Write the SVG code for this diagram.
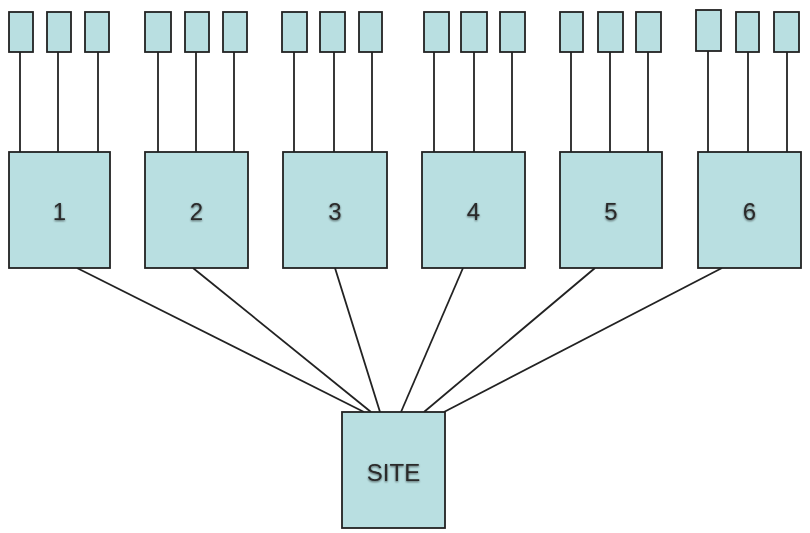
<svg xmlns="http://www.w3.org/2000/svg" width="810" height="533" viewBox="0 0 810 533">
<defs>
<filter id="soft" x="-20%" y="-20%" width="140%" height="140%">
<feGaussianBlur in="SourceAlpha" stdDeviation="1.2" result="b"/>
<feOffset in="b" dx="0" dy="1" result="o"/>
<feComponentTransfer in="o" result="s"><feFuncA type="linear" slope="0.6"/></feComponentTransfer>
<feMerge><feMergeNode in="s"/><feMergeNode in="SourceGraphic"/></feMerge>
</filter>
<style>
.box{fill:#b9dfe1;stroke:#222;stroke-width:1.8}
.ln{stroke:#222;stroke-width:1.8;fill:none}
.lbl{font-family:"Liberation Sans",Arial,sans-serif;font-size:24px;fill:#2a2a2a;text-anchor:middle;filter:url(#soft)}
</style>
</defs>
<rect width="810" height="533" fill="#fff"/>
<g id="connectors" class="ln">
<line x1="20" y1="52" x2="20" y2="152"/><line x1="58" y1="52" x2="58" y2="152"/><line x1="98" y1="52" x2="98" y2="152"/>
<line x1="158" y1="52" x2="158" y2="152"/><line x1="196" y1="52" x2="196" y2="152"/><line x1="234" y1="52" x2="234" y2="152"/>
<line x1="294" y1="52" x2="294" y2="152"/><line x1="334" y1="52" x2="334" y2="152"/><line x1="372" y1="52" x2="372" y2="152"/>
<line x1="434" y1="52" x2="434" y2="152"/><line x1="474" y1="52" x2="474" y2="152"/><line x1="512" y1="52" x2="512" y2="152"/>
<line x1="571" y1="52" x2="571" y2="152"/><line x1="610" y1="52" x2="610" y2="152"/><line x1="648" y1="52" x2="648" y2="152"/>
<line x1="708" y1="51" x2="708" y2="152"/><line x1="748" y1="52" x2="748" y2="152"/><line x1="787" y1="52" x2="787" y2="152"/>
<line x1="77" y1="268" x2="364" y2="412"/>
<line x1="193" y1="268" x2="371" y2="412"/>
<line x1="335" y1="268" x2="380" y2="412"/>
<line x1="463" y1="268" x2="401" y2="412"/>
<line x1="595" y1="268" x2="424" y2="412"/>
<line x1="722" y1="268" x2="444" y2="412"/>
</g>
<g id="leaf-1a"><rect class="box" x="9" y="12" width="24" height="40"/></g>
<g id="leaf-1b"><rect class="box" x="47" y="12" width="24" height="40"/></g>
<g id="leaf-1c"><rect class="box" x="85" y="12" width="24" height="40"/></g>
<g id="leaf-2a"><rect class="box" x="145" y="12" width="26" height="40"/></g>
<g id="leaf-2b"><rect class="box" x="185" y="12" width="24" height="40"/></g>
<g id="leaf-2c"><rect class="box" x="223" y="12" width="24" height="40"/></g>
<g id="leaf-3a"><rect class="box" x="282" y="12" width="25" height="40"/></g>
<g id="leaf-3b"><rect class="box" x="320" y="12" width="25" height="40"/></g>
<g id="leaf-3c"><rect class="box" x="359" y="12" width="23" height="40"/></g>
<g id="leaf-4a"><rect class="box" x="424" y="12" width="25" height="40"/></g>
<g id="leaf-4b"><rect class="box" x="461" y="12" width="26" height="40"/></g>
<g id="leaf-4c"><rect class="box" x="500" y="12" width="25" height="40"/></g>
<g id="leaf-5a"><rect class="box" x="560" y="12" width="23" height="40"/></g>
<g id="leaf-5b"><rect class="box" x="598" y="12" width="25" height="40"/></g>
<g id="leaf-5c"><rect class="box" x="636" y="12" width="25" height="40"/></g>
<g id="leaf-6a"><rect class="box" x="696" y="10" width="25" height="41"/></g>
<g id="leaf-6b"><rect class="box" x="736" y="12" width="23" height="40"/></g>
<g id="leaf-6c"><rect class="box" x="774" y="12" width="25" height="40"/></g>
<g id="node-1"><rect class="box" x="9" y="152" width="101" height="116"/><text class="lbl" x="59.5" y="220">1</text></g>
<g id="node-2"><rect class="box" x="145" y="152" width="103" height="116"/><text class="lbl" x="196.5" y="220">2</text></g>
<g id="node-3"><rect class="box" x="283" y="152" width="104" height="116"/><text class="lbl" x="335" y="220">3</text></g>
<g id="node-4"><rect class="box" x="422" y="152" width="103" height="116"/><text class="lbl" x="473.5" y="220">4</text></g>
<g id="node-5"><rect class="box" x="560" y="152" width="102" height="116"/><text class="lbl" x="611" y="220">5</text></g>
<g id="node-6"><rect class="box" x="698" y="152" width="103" height="116"/><text class="lbl" x="749.5" y="220">6</text></g>
<g id="node-site"><rect class="box" x="342" y="412" width="103" height="116"/><text class="lbl" x="393.5" y="481">SITE</text></g>
</svg>
